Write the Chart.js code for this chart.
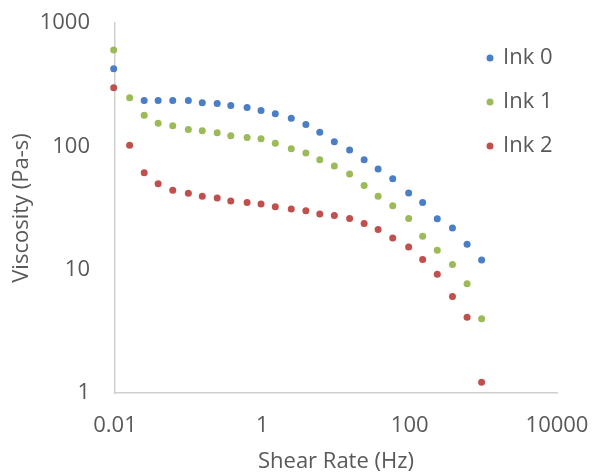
<!DOCTYPE html>
<html>
<head>
<meta charset="utf-8">
<script src="https://cdn.jsdelivr.net/npm/chart.js@4"></script>
<style>
  html, body { margin: 0; padding: 0; background: #fff; }
  #wrap { width: 592px; height: 476px; }
</style>
</head>
<body>
<div id="wrap"><canvas id="chart" width="592" height="476"></canvas></div>
<script>
// shear rates (Hz), shared by all three inks
var shearRate = [0.0096, 0.0158, 0.0249, 0.0385, 0.0608, 0.099, 0.153, 0.244, 0.373, 0.621,
    0.96, 1.5, 2.47, 3.9, 6.02, 9.49, 15.3, 24.1, 37.3, 58.9,
    96.9, 150, 237, 381, 602, 948];

// viscosity (Pa-s)
var ink0 = [425, null, 235, 235, 235, 235, 226, 222, 214, 206,
    195, 184, 169, 150, 130, 109, 93.5, 78, 65.6, 54.7,
    41.9, 35.1, 25.9, 21.8, 16.1, 12.0];
var ink1 = [605, 248, 179, 154, 147, 137, 134, 129, 122, 118,
    115, 106, 95.7, 88.3, 78, 69.3, 59.7, 48.2, 39.3, 33.0,
    26.0, 18.7, 14.4, 11.0, 7.7, 4.0];
var ink2 = [298, 102, 61.2, 49.8, 44.0, 41.6, 39.3, 38.1, 36.1, 35.1,
    34.0, 32.4, 31.0, 30.1, 28.3, 27.5, 26.0, 23.7, 21.2, 18.1,
    15.3, 12.1, 9.2, 6.05, 4.12, 1.22];

var seriesNames = ['Ink 0', 'Ink 1', 'Ink 2'];
var seriesColors = ['#4a7ec6', '#9bbb59', '#c0504d'];
var xTicks = [0.01, 1, 100, 10000];
var yTicks = [1, 10, 100, 1000];

var textColor = '#595959';
var fontFamily = '"Open Sans", sans-serif';
var fontSize = 22;

function toPoints(ys) {
    var pts = [];
    for (var i = 0; i < ys.length; i++) {
        if (ys[i] != null) pts.push({ x: shearRate[i], y: ys[i] });
    }
    return pts;
}

// legend drawn inside the plot area, top right
var insideLegend = {
    id: 'insideLegend',
    afterDraw: function (chart) {
        var ctx = chart.ctx;
        var area = chart.chartArea;
        ctx.save();
        ctx.font = fontSize + 'px ' + fontFamily;
        ctx.textBaseline = 'middle';
        ctx.textAlign = 'left';
        chart.data.datasets.forEach(function (ds, i) {
            var y = area.top + 35 + i * 44;
            ctx.fillStyle = ds.backgroundColor;
            ctx.beginPath();
            ctx.arc(area.right - 67, y, 3.5, 0, Math.PI * 2);
            ctx.fill();
            ctx.fillStyle = textColor;
            ctx.fillText(ds.label, area.right - 54, y);
        });
        ctx.restore();
    }
};

var data = [ink0, ink1, ink2];

new Chart('chart', {
    type: 'scatter',
    data: {
        datasets: data.map(function (ys, i) {
            return {
                label: seriesNames[i],
                data: toPoints(ys),
                backgroundColor: seriesColors[i],
                borderColor: seriesColors[i],
                borderWidth: 0,
                pointRadius: 3.5,
                pointHoverRadius: 3.5,
                clip: false
            };
        })
    },
    options: {
        responsive: false,
        animation: false,
        layout: { padding: { top: 23, right: 35, left: 0, bottom: 0 } },
        plugins: {
            legend: { display: false },
            tooltip: { enabled: false }
        },
        scales: {
            x: {
                type: 'logarithmic',
                min: 0.01,
                max: 10000,
                afterBuildTicks: function (scale) {
                    scale.ticks = xTicks.map(function (v) { return { value: v }; });
                },
                afterFit: function (scale) {
                    scale.height = 83;
                    scale.paddingLeft = 0;
                    scale.paddingRight = 0;
                },
                grid: { display: false, drawTicks: false },
                border: { display: true, color: '#d0d0d0', width: 1.5 },
                ticks: {
                    padding: 20,
                    color: textColor,
                    font: { family: fontFamily, size: fontSize },
                    maxRotation: 0,
                    callback: function (v) { return String(v); }
                },
                title: {
                    display: true,
                    text: 'Shear Rate (Hz)',
                    color: textColor,
                    font: { family: fontFamily, size: fontSize },
                    padding: { top: 4, bottom: 1 }
                }
            },
            y: {
                type: 'logarithmic',
                min: 1,
                max: 1000,
                afterBuildTicks: function (scale) {
                    scale.ticks = yTicks.map(function (v) { return { value: v }; });
                },
                afterFit: function (scale) {
                    scale.width = 115;
                    scale.paddingTop = 0;
                    scale.paddingBottom = 0;
                },
                grid: { display: false, drawTicks: false },
                border: { display: true, color: '#d0d0d0', width: 1.5 },
                ticks: {
                    padding: 25,
                    color: textColor,
                    font: { family: fontFamily, size: fontSize },
                    callback: function (v) { return String(v); }
                },
                title: {
                    display: true,
                    text: 'Viscosity (Pa-s)',
                    color: textColor,
                    font: { family: fontFamily, size: fontSize },
                    padding: { top: 9, bottom: 4 }
                }
            }
        }
    },
    plugins: [insideLegend]
});
</script>
</body>
</html>
